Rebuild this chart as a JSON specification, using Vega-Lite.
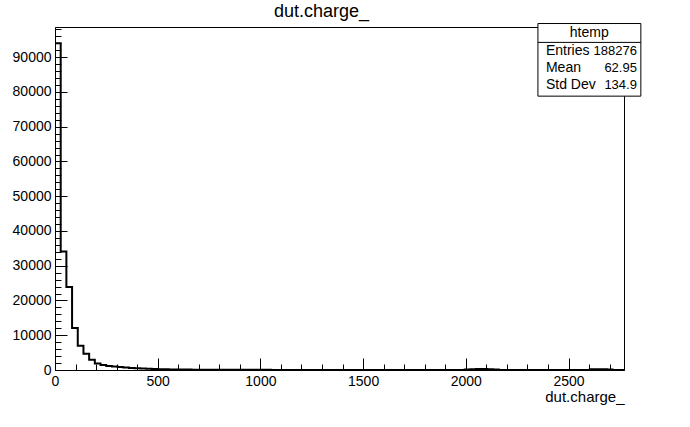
{
  "$schema": "https://vega.github.io/schema/vega-lite/v6.json",
  "autosize": "none",
  "width": 569,
  "height": 343,
  "padding": {"left": 55, "top": 27, "right": 66, "bottom": 57},
  "background": "white",
  "config": {
    "font": "Liberation Sans",
    "view": {"stroke": "black", "strokeWidth": 1},
    "axis": {"grid": false, "domainColor": "black", "tickColor": "black", "labelColor": "black", "titleColor": "black", "labelFont": "Liberation Sans", "titleFont": "Liberation Sans"}
  },
  "title": {"text": "dut.charge_", "fontSize": 18, "fontWeight": "normal", "font": "Liberation Sans", "color": "black", "anchor": "middle", "offset": 2, "dx": -18},
  "datasets": {
    "hist": [
      {"lo": 0, "count": 94000}, {"lo": 27.7, "count": 34100}, {"lo": 55.4, "count": 23900}, {"lo": 83.1, "count": 12100},
      {"lo": 110.8, "count": 7000}, {"lo": 138.5, "count": 4700}, {"lo": 166.2, "count": 2950}, {"lo": 193.9, "count": 1900},
      {"lo": 221.6, "count": 1450}, {"lo": 249.3, "count": 1150}, {"lo": 277, "count": 1000}, {"lo": 304.7, "count": 850},
      {"lo": 332.4, "count": 720}, {"lo": 360.1, "count": 600}, {"lo": 387.8, "count": 500}, {"lo": 415.5, "count": 420},
      {"lo": 443.2, "count": 350}, {"lo": 470.9, "count": 290}, {"lo": 498.6, "count": 240}, {"lo": 526.3, "count": 200},
      {"lo": 554, "count": 170}, {"lo": 581.7, "count": 150}, {"lo": 609.4, "count": 130}, {"lo": 637.1, "count": 115},
      {"lo": 664.8, "count": 100}, {"lo": 692.5, "count": 90}, {"lo": 720.2, "count": 80}, {"lo": 747.9, "count": 72},
      {"lo": 775.6, "count": 65}, {"lo": 803.3, "count": 60}, {"lo": 831, "count": 55}, {"lo": 858.7, "count": 52},
      {"lo": 886.4, "count": 50}, {"lo": 914.1, "count": 48}, {"lo": 941.8, "count": 45}, {"lo": 969.5, "count": 43},
      {"lo": 997.2, "count": 40}, {"lo": 1024.9, "count": 38}, {"lo": 1052.6, "count": 36}, {"lo": 1080.3, "count": 35},
      {"lo": 1108, "count": 33}, {"lo": 1135.7, "count": 32}, {"lo": 1163.4, "count": 30}, {"lo": 1191.1, "count": 29},
      {"lo": 1218.8, "count": 28}, {"lo": 1246.5, "count": 27}, {"lo": 1274.2, "count": 26}, {"lo": 1301.9, "count": 25},
      {"lo": 1329.6, "count": 24}, {"lo": 1357.3, "count": 23}, {"lo": 1385, "count": 22}, {"lo": 1412.7, "count": 22},
      {"lo": 1440.4, "count": 21}, {"lo": 1468.1, "count": 20}, {"lo": 1495.8, "count": 20}, {"lo": 1523.5, "count": 19},
      {"lo": 1551.2, "count": 19}, {"lo": 1578.9, "count": 18}, {"lo": 1606.6, "count": 18}, {"lo": 1634.3, "count": 17},
      {"lo": 1662, "count": 17}, {"lo": 1689.7, "count": 16}, {"lo": 1717.4, "count": 16}, {"lo": 1745.1, "count": 15},
      {"lo": 1772.8, "count": 15}, {"lo": 1800.5, "count": 15}, {"lo": 1828.2, "count": 14}, {"lo": 1855.9, "count": 14},
      {"lo": 1883.6, "count": 14}, {"lo": 1911.3, "count": 13}, {"lo": 1939, "count": 13}, {"lo": 1966.7, "count": 30},
      {"lo": 1994.4, "count": 150}, {"lo": 2022.1, "count": 250}, {"lo": 2049.8, "count": 280}, {"lo": 2077.5, "count": 260},
      {"lo": 2105.2, "count": 220}, {"lo": 2132.9, "count": 150}, {"lo": 2160.6, "count": 30}, {"lo": 2188.3, "count": 12},
      {"lo": 2216, "count": 10}, {"lo": 2243.7, "count": 9}, {"lo": 2271.4, "count": 9}, {"lo": 2299.1, "count": 8},
      {"lo": 2326.8, "count": 8}, {"lo": 2354.5, "count": 8}, {"lo": 2382.2, "count": 7}, {"lo": 2409.9, "count": 7},
      {"lo": 2437.6, "count": 7}, {"lo": 2465.3, "count": 6}, {"lo": 2493, "count": 6}, {"lo": 2520.7, "count": 6},
      {"lo": 2548.4, "count": 10}, {"lo": 2576.1, "count": 30}, {"lo": 2603.8, "count": 180}, {"lo": 2631.5, "count": 220},
      {"lo": 2659.2, "count": 200}, {"lo": 2686.9, "count": 120}, {"lo": 2714.6, "count": 15}, {"lo": 2742.3, "count": 6},
      {"lo": 2770, "count": 6}
    ],
    "stats": [
      {"label": "htemp", "value": ""},
      {"label": "Entries", "value": "188276"},
      {"label": "Mean", "value": "62.95"},
      {"label": "Std Dev", "value": "134.9"}
    ]
  },
  "data": {"name": "hist"},
  "resolve": {"axis": {"x": "independent", "y": "independent"}},
  "layer": [
    {
      "mark": {"type": "line", "interpolate": "step-after", "color": "black", "strokeWidth": 2},
      "encoding": {
        "x": {"field": "lo", "type": "quantitative", "scale": {"domain": [0, 2770], "nice": false, "zero": false},
              "axis": {"orient": "bottom", "values": [0, 500, 1000, 1500, 2000, 2500], "format": "d", "tickSize": -12, "labelPadding": 16, "labelFontSize": 14, "labelFlush": false, "title": "dut.charge_", "titleFontSize": 15, "titleFontWeight": "normal", "titleAnchor": "end", "titlePadding": 1, "domainWidth": 1}},
        "y": {"field": "count", "type": "quantitative", "scale": {"domain": [0, 98700], "nice": false},
              "axis": {"orient": "left", "values": [0, 10000, 20000, 30000, 40000, 50000, 60000, 70000, 80000, 90000], "format": "d", "tickSize": -12, "labelPadding": 16, "labelFontSize": 14, "title": null, "domainWidth": 1}}
      }
    },
    {
      "mark": {"type": "line", "strokeOpacity": 0},
      "encoding": {
        "x": {"field": "lo", "type": "quantitative",
              "axis": {"orient": "bottom", "values": [100, 200, 300, 400, 600, 700, 800, 900, 1100, 1200, 1300, 1400, 1600, 1700, 1800, 1900, 2100, 2200, 2300, 2400, 2600, 2700], "tickSize": -6, "labels": false, "domain": false, "title": null}},
        "y": {"field": "count", "type": "quantitative",
              "axis": {"orient": "left", "values": [2000, 4000, 6000, 8000, 12000, 14000, 16000, 18000, 22000, 24000, 26000, 28000, 32000, 34000, 36000, 38000, 42000, 44000, 46000, 48000, 52000, 54000, 56000, 58000, 62000, 64000, 66000, 68000, 72000, 74000, 76000, 78000, 82000, 84000, 86000, 88000, 92000, 94000, 96000, 98000], "tickSize": -6, "labels": false, "domain": false, "title": null}}
      }
    },
    {
      "data": {"name": "stats"},
      "transform": [{"filter": "datum.label === 'htemp'"}],
      "mark": {"type": "rect", "fill": "white", "stroke": "black", "strokeWidth": 1},
      "encoding": {
        "x": {"datum": 2351, "type": "quantitative", "axis": null},
        "x2": {"datum": 2852},
        "y": {"datum": 99700, "type": "quantitative", "axis": null},
        "y2": {"datum": 78800}
      }
    },
    {
      "data": {"name": "stats"},
      "transform": [{"filter": "datum.label === 'htemp'"}],
      "mark": {"type": "rule", "color": "black", "strokeWidth": 1},
      "encoding": {
        "x": {"datum": 2351, "type": "quantitative", "axis": null},
        "x2": {"datum": 2852},
        "y": {"datum": 94270, "type": "quantitative", "axis": null}
      }
    },
    {
      "data": {"name": "stats"},
      "transform": [{"filter": "datum.label === 'htemp'"}],
      "mark": {"type": "text", "align": "center", "baseline": "middle", "fontSize": 14, "color": "black"},
      "encoding": {
        "x": {"datum": 2601, "type": "quantitative", "axis": null},
        "y": {"datum": 96900, "type": "quantitative", "axis": null},
        "text": {"field": "label"}
      }
    },
    {
      "data": {"name": "stats"},
      "transform": [{"filter": "datum.label === 'Entries'"}],
      "layer": [
        {"mark": {"type": "text", "align": "left", "baseline": "middle", "fontSize": 14, "color": "black"},
         "encoding": {"x": {"datum": 2390, "type": "quantitative", "axis": null}, "y": {"datum": 91690, "type": "quantitative", "axis": null}, "text": {"field": "label"}}},
        {"mark": {"type": "text", "align": "right", "baseline": "middle", "fontSize": 13, "color": "black"},
         "encoding": {"x": {"datum": 2833, "type": "quantitative", "axis": null}, "y": {"datum": 91690, "type": "quantitative", "axis": null}, "text": {"field": "value"}}}
      ]
    },
    {
      "data": {"name": "stats"},
      "transform": [{"filter": "datum.label === 'Mean'"}],
      "layer": [
        {"mark": {"type": "text", "align": "left", "baseline": "middle", "fontSize": 14, "color": "black"},
         "encoding": {"x": {"datum": 2390, "type": "quantitative", "axis": null}, "y": {"datum": 86820, "type": "quantitative", "axis": null}, "text": {"field": "label"}}},
        {"mark": {"type": "text", "align": "right", "baseline": "middle", "fontSize": 13, "color": "black"},
         "encoding": {"x": {"datum": 2833, "type": "quantitative", "axis": null}, "y": {"datum": 86820, "type": "quantitative", "axis": null}, "text": {"field": "value"}}}
      ]
    },
    {
      "data": {"name": "stats"},
      "transform": [{"filter": "datum.label === 'Std Dev'"}],
      "layer": [
        {"mark": {"type": "text", "align": "left", "baseline": "middle", "fontSize": 14, "color": "black"},
         "encoding": {"x": {"datum": 2390, "type": "quantitative", "axis": null}, "y": {"datum": 81950, "type": "quantitative", "axis": null}, "text": {"field": "label"}}},
        {"mark": {"type": "text", "align": "right", "baseline": "middle", "fontSize": 13, "color": "black"},
         "encoding": {"x": {"datum": 2833, "type": "quantitative", "axis": null}, "y": {"datum": 81950, "type": "quantitative", "axis": null}, "text": {"field": "value"}}}
      ]
    }
  ]
}
